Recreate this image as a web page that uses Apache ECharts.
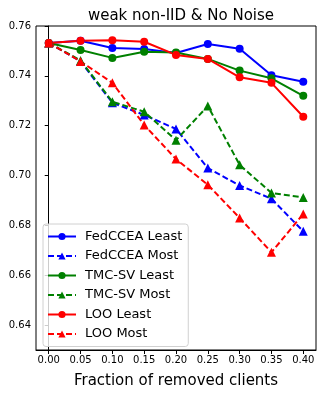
<!DOCTYPE html>
<html>
<head>
<meta charset="utf-8">
<script src="https://cdn.jsdelivr.net/npm/echarts@6/dist/echarts.min.js"></script>
<style>
  html, body { margin: 0; padding: 0; background: #fff; }
  #chart { width: 322px; height: 394px; }
</style>
</head>
<body>
<div id="chart"></div>
<script>
// fraction of removed clients
const fractions = [0.00, 0.05, 0.10, 0.15, 0.20, 0.25, 0.30, 0.35, 0.40];
const yTicks = [0.64, 0.66, 0.68, 0.70, 0.72, 0.74, 0.76];

const fedLeast = [0.7532, 0.7541, 0.7512, 0.7508, 0.7492, 0.7528, 0.7509, 0.7402, 0.7376];
const fedMost  = [0.7532, 0.7458, 0.7292, 0.7243, 0.7187, 0.7030, 0.6960, 0.6907, 0.6776];
const tmcLeast = [0.7532, 0.7504, 0.7472, 0.7497, 0.7494, 0.7468, 0.7421, 0.7390, 0.7320];
const tmcMost  = [0.7532, 0.7462, 0.7296, 0.7256, 0.7142, 0.7279, 0.7043, 0.6930, 0.6912];
const looLeast = [0.7532, 0.7541, 0.7543, 0.7537, 0.7484, 0.7468, 0.7394, 0.7372, 0.7236];
const looMost  = [0.7532, 0.7458, 0.7372, 0.7203, 0.7066, 0.6963, 0.6830, 0.6692, 0.6846];

const font = 'DejaVu Sans';

const mkSeries = (name, values, color, dashed) => ({
  name,
  type: 'line',
  data: fractions.map((x, i) => [x, values[i]]),
  symbol: dashed ? 'triangle' : 'circle',
  symbolSize: dashed ? 9 : 8,
  showAllSymbol: true,
  lineStyle: { color, width: 2, type: dashed ? [6, 3] : 'solid' },
  itemStyle: { color },
  emphasis: { disabled: true },
  animation: false
});

const chart = echarts.init(document.getElementById('chart'));
chart.setOption({
  animation: false,
  title: {
    text: 'weak non-IID & No Noise',
    left: 176,
    textAlign: 'center',
    top: 4,
    textStyle: { fontFamily: font, fontSize: 15, fontWeight: 'normal', color: '#000' }
  },
  grid: {
    left: 36, right: 6, top: 26, bottom: 43,
    show: true, borderColor: '#000', borderWidth: 1
  },
  legend: {
    orient: 'vertical',
    left: 43,
    top: 224,
    itemWidth: 28,
    itemHeight: 9,
    itemGap: 6.5,
    padding: [6, 6, 6, 4],
    borderColor: '#d0d0d0',
    borderWidth: 1,
    borderRadius: 3,
    backgroundColor: 'rgba(255,255,255,0.8)',
    textStyle: { fontFamily: font, fontSize: 13, color: '#000', padding: [0, 0, 0, 4] },
    data: ['FedCCEA Least', 'FedCCEA Most', 'TMC-SV Least', 'TMC-SV Most', 'LOO Least', 'LOO Most']
  },
  xAxis: {
    type: 'value',
    min: -0.02,
    max: 0.42,
    name: 'Fraction of removed clients',
    nameLocation: 'middle',
    nameGap: 24,
    nameTextStyle: { fontFamily: font, fontSize: 15, color: '#000' },
    axisLine: { lineStyle: { color: '#000' } },
    axisTick: { show: true, length: 4, lineStyle: { color: '#000' }, customValues: fractions },
    axisLabel: {
      fontFamily: font, fontSize: 10, color: '#000', margin: 5,
      customValues: fractions,
      formatter: v => v.toFixed(2)
    },
    splitLine: { show: false }
  },
  yAxis: {
    type: 'value',
    min: 0.63,
    max: 0.76,
    axisLine: { show: true, lineStyle: { color: '#000' } },
    axisTick: { show: true, length: 4, lineStyle: { color: '#000' }, customValues: yTicks },
    axisLabel: {
      fontFamily: font, fontSize: 10, color: '#000', margin: 5,
      customValues: yTicks,
      formatter: v => v.toFixed(2)
    },
    splitLine: { show: false }
  },
  series: [
    mkSeries('FedCCEA Least', fedLeast, '#0000ff', false),
    mkSeries('FedCCEA Most', fedMost, '#0000ff', true),
    mkSeries('TMC-SV Least', tmcLeast, '#008000', false),
    mkSeries('TMC-SV Most', tmcMost, '#008000', true),
    mkSeries('LOO Least', looLeast, '#ff0000', false),
    mkSeries('LOO Most', looMost, '#ff0000', true)
  ]
});
</script>
</body>
</html>
